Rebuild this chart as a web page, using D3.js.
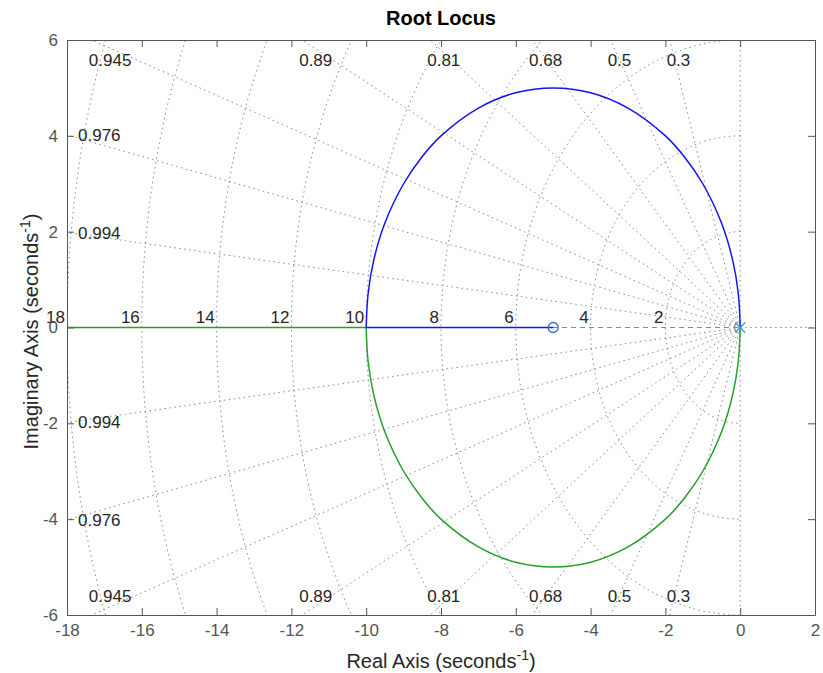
<!doctype html>
<html lang="en">
<head>
<meta charset="UTF-8">
<title>Root Locus</title>
<style>
  body { margin: 0; background: #fff; }
  text { font-family: "Liberation Sans", Arial, Helvetica, sans-serif; }
</style>
</head>
<body>
<div class="container"></div>

<script src="https://d3js.org/d3.v7.min.js"></script>
<script>
  const SVG_WIDTH = 823;
  const SVG_HEIGHT = 673;
  const MARGIN = { left: 67, top: 40, right: 8, bottom: 58 };
  const GRAPH_WIDTH = SVG_WIDTH - MARGIN.left - MARGIN.right;
  const GRAPH_HEIGHT = SVG_HEIGHT - MARGIN.top - MARGIN.bottom;

  // axis ticks
  const xTickValues = [-18, -16, -14, -12, -10, -8, -6, -4, -2, 0, 2];
  const yTickValues = [-6, -4, -2, 0, 2, 4, 6];

  // grid: damping ratios and natural frequencies
  const dampingValues = [0.3, 0.5, 0.68, 0.81, 0.89, 0.945, 0.976, 0.994];
  const freqValues = [2, 4, 6, 8, 10, 12, 14, 16, 18];

  // locus branches (real, imag)
  const branchReal = [0, -0.05, -0.2, -0.5, -1, -1.5, -2, -3, -4, -5, -6, -7, -8, -8.5, -9, -9.5, -9.8, -9.95, -10];
  const upperImag = [0, 0.7, 1.4, 2.18, 3, 3.57, 4, 4.58, 4.9, 5, 4.9, 4.58, 4, 3.57, 3, 2.18, 1.4, 0.7, 0];
  const lowerImag = [0, -0.7, -1.4, -2.18, -3, -3.57, -4, -4.58, -4.9, -5, -4.9, -4.58, -4, -3.57, -3, -2.18, -1.4, -0.7, 0];
  const blueRealAxis = [[-10, 0], [-5, 0]];
  const greenRealAxis = [[-10, 0], [-20, 0]];
  const poles = [[0, 0]];
  const zeros = [[-5, 0]];

  const BLUE = '#1414f0';
  const GREEN = '#22a02a';
  const LOCUS_WIDTH = 1.5;

  const x = d3.scaleLinear().domain([-18, 2]).range([0, GRAPH_WIDTH]);
  const y = d3.scaleLinear().domain([-6, 6]).range([GRAPH_HEIGHT, 0]);

  const svg = d3.select('.container')
    .append('svg')
    .attr('width', SVG_WIDTH)
    .attr('height', SVG_HEIGHT);

  svg.append('defs').append('clipPath').attr('id', 'plot-clip')
    .append('rect').attr('width', GRAPH_WIDTH).attr('height', GRAPH_HEIGHT);

  const graph = svg.append('g')
    .attr('transform', `translate(${MARGIN.left}, ${MARGIN.top})`);

  const gridGroup = graph.append('g').attr('clip-path', 'url(#plot-clip)');
  const GRID_COLOR = '#8a8a8a';
  const DOTS = '1.5,3.5';

  // real axis: dashed on the left, dotted on the right
  gridGroup.append('line')
    .attr('x1', x(-18)).attr('x2', x(0)).attr('y1', y(0)).attr('y2', y(0))
    .attr('stroke', GRID_COLOR).attr('stroke-dasharray', '5,4');
  gridGroup.append('line')
    .attr('x1', x(0)).attr('x2', x(2)).attr('y1', y(0)).attr('y2', y(0))
    .attr('stroke', GRID_COLOR).attr('stroke-dasharray', DOTS);
  // zeta = 0
  gridGroup.append('line')
    .attr('x1', x(0)).attr('x2', x(0)).attr('y1', y(6)).attr('y2', y(-6))
    .attr('stroke', GRID_COLOR).attr('stroke-dasharray', DOTS);

  // damping rays
  const R = 40;
  dampingValues.forEach(z => {
    const a = Math.acos(z);
    [1, -1].forEach(s => {
      gridGroup.append('line')
        .attr('x1', x(0)).attr('y1', y(0))
        .attr('x2', x(-R * Math.cos(a))).attr('y2', y(s * R * Math.sin(a)))
        .attr('stroke', GRID_COLOR).attr('stroke-dasharray', DOTS);
    });
  });

  // natural frequency half circles
  const arc = d3.line().x(d => x(d[0])).y(d => y(d[1]));
  freqValues.forEach(w => {
    const pts = d3.range(0, 181).map(i => {
      const t = Math.PI / 2 + i * Math.PI / 180;
      return [w * Math.cos(t), w * Math.sin(t)];
    });
    gridGroup.append('path').attr('d', arc(pts))
      .attr('fill', 'none').attr('stroke', GRID_COLOR).attr('stroke-dasharray', DOTS);
  });

  // damping labels
  const labelGroup = graph.append('g')
    .style('font-size', '17px').attr('fill', '#262626');
  dampingValues.forEach(z => {
    const slope = Math.tan(Math.acos(z));
    const xTop = -6 / slope;
    if (xTop >= -18) {
      labelGroup.append('text').attr('x', x(xTop) - 3).attr('y', 26).text(z);
      labelGroup.append('text').attr('x', x(xTop) - 3).attr('y', GRAPH_HEIGHT - 13).text(z);
    } else {
      const yLeft = 18 * slope;
      labelGroup.append('text').attr('x', 11).attr('y', y(yLeft) + 6).text(z);
      labelGroup.append('text').attr('x', 11).attr('y', y(-yLeft) + 6).text(z);
    }
  });
  freqValues.forEach(w => {
    labelGroup.append('text')
      .attr('x', x(-w) - 2).attr('y', y(0) - 5)
      .attr('text-anchor', 'end').text(w);
  });

  // locus
  const locusGroup = graph.append('g').attr('clip-path', 'url(#plot-clip)');
  const curve = d3.line().x(d => x(d[0])).y(d => y(d[1])).curve(d3.curveCatmullRom);
  const upper = branchReal.map((r, i) => [r, upperImag[i]]);
  const lower = branchReal.map((r, i) => [r, lowerImag[i]]);

  locusGroup.append('path').attr('d', curve(greenRealAxis))
    .attr('fill', 'none').attr('stroke', GREEN).attr('stroke-width', LOCUS_WIDTH);
  locusGroup.append('path').attr('d', curve(lower))
    .attr('fill', 'none').attr('stroke', GREEN).attr('stroke-width', LOCUS_WIDTH);
  locusGroup.append('path').attr('d', curve(blueRealAxis))
    .attr('fill', 'none').attr('stroke', BLUE).attr('stroke-width', LOCUS_WIDTH);
  locusGroup.append('path').attr('d', curve(upper))
    .attr('fill', 'none').attr('stroke', BLUE).attr('stroke-width', LOCUS_WIDTH);

  // zeros and poles
  locusGroup.selectAll('circle.zero').data(zeros).enter().append('circle')
    .attr('cx', d => x(d[0])).attr('cy', d => y(d[1])).attr('r', 5)
    .attr('fill', 'none').attr('stroke', '#2f6fd6').attr('stroke-width', 1.3);
  poles.forEach(p => {
    const px = x(p[0]), py = y(p[1]), s = 5;
    locusGroup.append('path')
      .attr('d', `M${px - s},${py - s}L${px + s},${py + s}M${px - s},${py + s}L${px + s},${py - s}`)
      .attr('stroke', '#3a9ad9').attr('stroke-width', 1.3);
  });

  // axes
  const TICK_COLOR = '#555555';
  const fmt = d => String(d);
  const xAxisGroup = graph.append('g').attr('transform', `translate(0, ${GRAPH_HEIGHT})`)
    .call(d3.axisBottom(x).tickValues(xTickValues).tickSizeInner(-7).tickSizeOuter(0).tickPadding(9).tickFormat(fmt));
  const xAxisTop = graph.append('g')
    .call(d3.axisTop(x).tickValues(xTickValues).tickSizeInner(-7).tickSizeOuter(0).tickFormat(''));
  const yAxisGroup = graph.append('g')
    .call(d3.axisLeft(y).tickValues(yTickValues).tickSizeInner(-7).tickSizeOuter(0).tickPadding(9).tickFormat(fmt));
  const yAxisRight = graph.append('g').attr('transform', `translate(${GRAPH_WIDTH}, 0)`)
    .call(d3.axisRight(y).tickValues(yTickValues).tickSizeInner(-7).tickSizeOuter(0).tickFormat(''));

  [xAxisGroup, xAxisTop, yAxisGroup, yAxisRight].forEach(g => {
    g.select('.domain').attr('stroke', TICK_COLOR);
    g.selectAll('.tick line').attr('stroke', TICK_COLOR);
    g.selectAll('.tick text')
      .attr('fill', TICK_COLOR)
      .style('font-family', '"Liberation Sans", Arial, sans-serif')
      .style('font-size', '17px');
  });

  // title and axis labels
  svg.append('text')
    .attr('x', MARGIN.left + GRAPH_WIDTH / 2).attr('y', 25)
    .attr('text-anchor', 'middle')
    .style('font-size', '20px').style('font-weight', 'bold').attr('fill', '#000')
    .text('Root Locus');

  const xLabel = svg.append('text')
    .attr('x', MARGIN.left + GRAPH_WIDTH / 2).attr('y', 668)
    .attr('text-anchor', 'middle')
    .style('font-size', '20px').attr('fill', '#262626');
  xLabel.append('tspan').text('Real Axis (seconds');
  xLabel.append('tspan').attr('dy', -8).style('font-size', '14px').text('-1');
  xLabel.append('tspan').attr('dy', 8).text(')');

  const yLabel = svg.append('text')
    .attr('transform', `translate(38, ${MARGIN.top + GRAPH_HEIGHT / 2 + 4}) rotate(-90)`)
    .attr('text-anchor', 'middle')
    .style('font-size', '20px').attr('fill', '#262626');
  yLabel.append('tspan').text('Imaginary Axis (seconds');
  yLabel.append('tspan').attr('dy', -8).style('font-size', '14px').text('-1');
  yLabel.append('tspan').attr('dy', 8).text(')');
</script>
</body>
</html>
